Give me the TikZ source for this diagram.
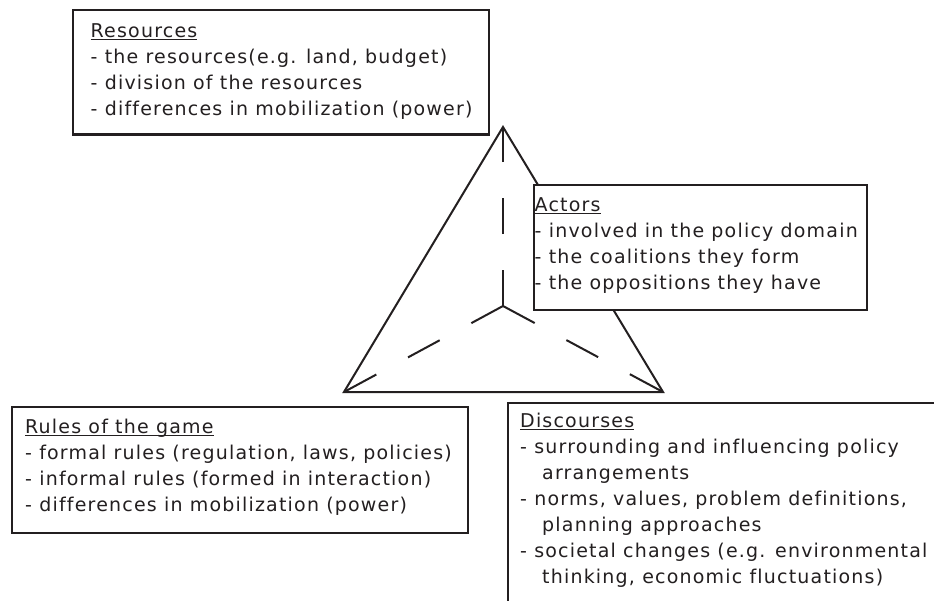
\documentclass[tikz,border=0pt]{standalone}
\usepackage{fontspec}
\setmainfont{DejaVu Sans}[LetterSpace=6.3,Ligatures=NoCommon]
\usetikzlibrary{positioning}
\definecolor{fdInk}{RGB}{35,31,32}
\newcommand{\hdline}[1]{\setbox0=\hbox{#1}\rlap{\rule[-2.6pt]{\wd0}{1.2pt}}\box0}
\newcommand{\wrapin}{\hspace*{22pt}}

\begin{document}
\begin{tikzpicture}[x=1pt,y=-1pt,
  frame/.style={draw=fdInk, line width=2.4pt, fill=white, inner sep=0pt, anchor=north west},
  txt/.style={inner sep=0pt, align=left, text=fdInk, font=\fontsize{19}{26}\selectfont},
  edge/.style={draw=fdInk, line width=2pt, line join=miter},
  spoke/.style={edge, dash pattern=on 36pt off 36pt}]
  \useasboundingbox (0,0) rectangle (934,600);
  \clip (0,0) rectangle (934,600);

  % Triangle
  \coordinate (apex) at (503,127);
  \coordinate (lcorner) at (344,392);
  \coordinate (rcorner) at (663,392);
  \coordinate (hub) at (503,306);
  \draw[edge] (apex) -- (lcorner) -- (rcorner) -- cycle;
  \draw[spoke] (hub) -- (apex);
  \draw[spoke] (hub) -- (lcorner);
  \draw[spoke] (hub) -- (rcorner);

  % Resources
  \node[frame, minimum width=416pt, minimum height=124.5pt] (res) at (72,8.7) {};
  \node[txt, below right=14.5pt and 18.5pt of res.north west] (restxt)
    {\hdline{Resources}\\
     - the resources(e.g. land, budget)\\
     - division of the resources\\
     - differences in mobilization (power)};

  % Actors
  \node[frame, minimum width=333.5pt, minimum height=124.5pt] (act) at (532.5,184) {};
  \node[txt, below right=13.2pt and 2pt of act.north west] (acttxt)
    {\hdline{Actors}\\
     - involved in the policy domain\\
     - the coalitions they form\\
     - the oppositions they have};

  % Rules of the game
  \node[frame, minimum width=456pt, minimum height=126.5pt] (rules) at (10.5,405.5) {};
  \node[txt, below right=13.1pt and 14.5pt of rules.north west] (rulestxt)
    {\hdline{Rules of the game}\\
     - formal rules (regulation, laws, policies)\\
     - informal rules (formed in interaction)\\
     - differences in mobilization (power)};

  % Discourses
  \node[frame, minimum width=460pt, minimum height=220pt] (disc) at (507,401.7) {};
  \node[txt, below right=11.5pt and 13pt of disc.north west] (disctxt)
    {\hdline{Discourses}\\
     - surrounding and influencing policy\\
     \wrapin arrangements\\
     - norms, values, problem definitions,\\
     \wrapin planning approaches\\
     - societal changes (e.g. environmental\\
     \wrapin thinking, economic fluctuations)};
\end{tikzpicture}
\end{document}
